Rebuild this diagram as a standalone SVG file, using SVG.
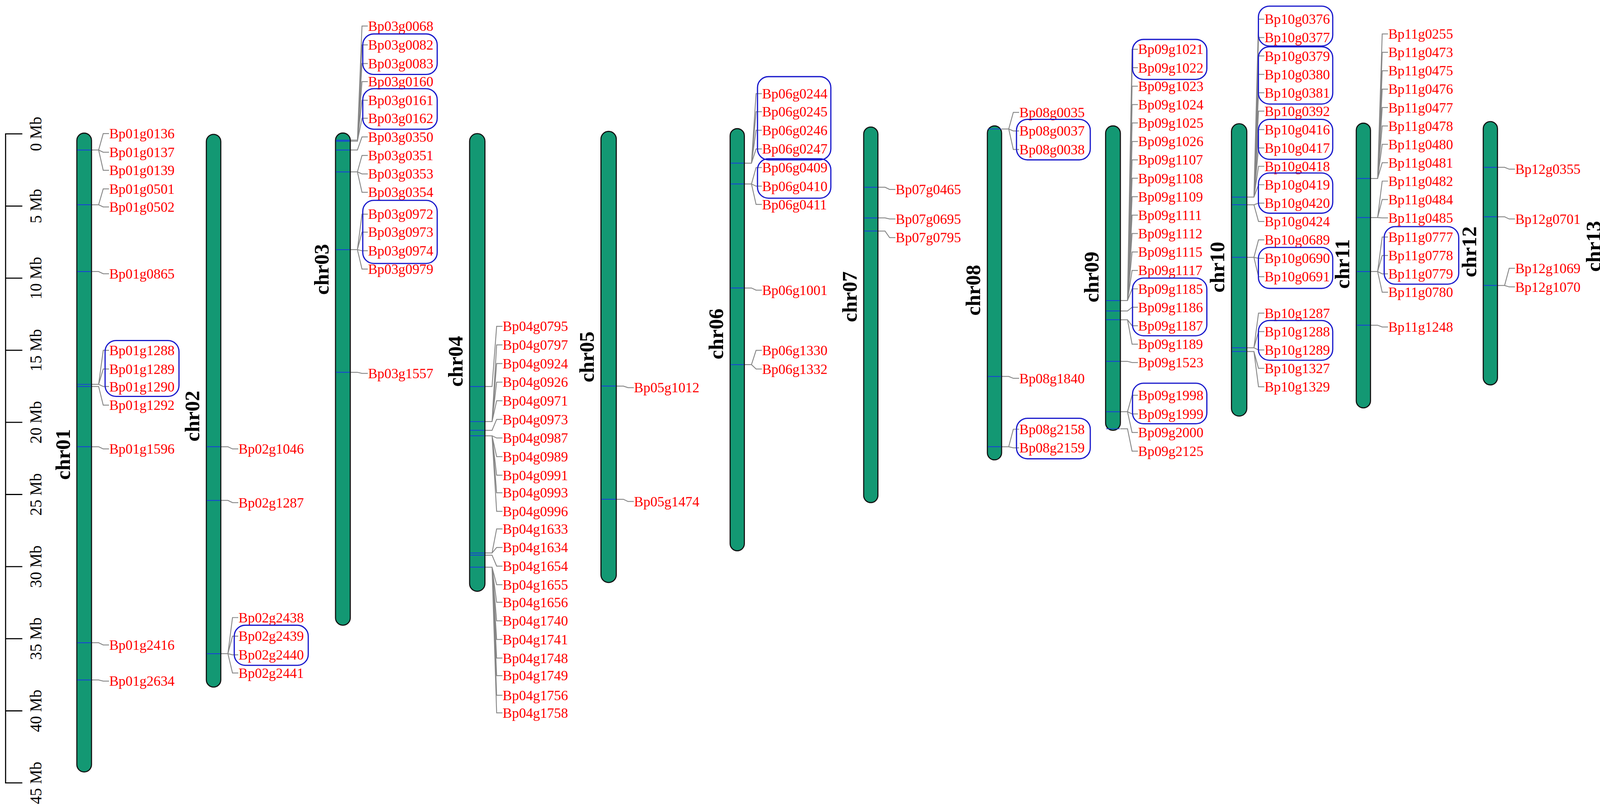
<svg xmlns="http://www.w3.org/2000/svg" width="4394" height="2073" viewBox="0 0 4394 2073">
<style>
.chr{fill:#139873;stroke:#111;stroke-width:1}
.mk{stroke:#1a3ae0;stroke-width:0.7}
.cn path{fill:none;stroke:#858585;stroke-width:0.8}
.g{font-family:"Liberation Serif","Times New Roman",serif;font-size:12.8px;fill:#ff0000}
.cl{font-family:"Liberation Serif","Times New Roman",serif;font-size:19px;font-weight:bold;fill:#000;text-anchor:middle}
.ax{font-family:"Liberation Serif","Times New Roman",serif;font-size:14.7px;fill:#000;text-anchor:middle}
.bx{fill:none;stroke:#1a1acc;stroke-width:1.1}
</style>
<rect width="4394" height="2073" fill="#fff"/>
<g transform="scale(2.8023)">
<g id="axis">
<path d="M20.4 122.3H5.1V715H20.4M5.1 188.2H20.4M5.1 254H20.4M5.1 319.9H20.4M5.1 385.7H20.4M5.1 451.6H20.4M5.1 517.5H20.4M5.1 583.3H20.4M5.1 649.2H20.4" fill="none" stroke="#000" stroke-width="1"/>
<text class="ax" transform="translate(38,122.3) rotate(-90)">0 Mb</text>
<text class="ax" transform="translate(38,188.2) rotate(-90)">5 Mb</text>
<text class="ax" transform="translate(38,254) rotate(-90)">10 Mb</text>
<text class="ax" transform="translate(38,319.9) rotate(-90)">15 Mb</text>
<text class="ax" transform="translate(38,385.7) rotate(-90)">20 Mb</text>
<text class="ax" transform="translate(38,451.6) rotate(-90)">25 Mb</text>
<text class="ax" transform="translate(38,517.5) rotate(-90)">30 Mb</text>
<text class="ax" transform="translate(38,583.3) rotate(-90)">35 Mb</text>
<text class="ax" transform="translate(38,649.2) rotate(-90)">40 Mb</text>
<text class="ax" transform="translate(38,715) rotate(-90)">45 Mb</text>
</g>
<g id="connectors" class="cn">
<path d="M83.6 137h6.5L94.3 122h5.3M83.6 137h6.5L94.3 139h5.3M83.6 137h6.5L94.3 155.5h5.3M83.6 187h6.5L94.3 172.5h5.3M83.6 187h6.5L94.3 189h5.3M83.6 248h6.5L94.3 250h5.3M83.6 351h6.5L94.3 320h5.3M83.6 351h6.5L94.3 337h5.3M83.6 351h6.5L94.3 353h5.3M83.6 353h6.5L94.3 370h5.3M83.6 408h6.5L94.3 410h5.3M83.6 587h6.5L94.3 589h5.3M83.6 621h6.5L94.3 622h5.3"/>
<path d="M201.7 408h6.5L212.4 410h5.3M201.7 457h6.5L212.4 459h5.3M201.7 597h6.5L212.4 564h5.3M201.7 597h6.5L212.4 581h5.3M201.7 597h6.5L212.4 598h5.3M201.7 597h6.5L212.4 614.6h5.3"/>
<path d="M320 128h6.5L330.7 23.8h5.3M320 128h6.5L330.7 41h5.3M320 128h6.5L330.7 58h5.3M320 129h6.5L330.7 74.5h5.3M320 129h6.5L330.7 91.6h5.3M320 129h6.5L330.7 108h5.3M320 137h6.5L330.7 125h5.3M320 157h6.5L330.7 142h5.3M320 157h6.5L330.7 158.8h5.3M320 157h6.5L330.7 175.6h5.3M320 228h6.5L330.7 195.6h5.3M320 228h6.5L330.7 212h5.3M320 228h6.5L330.7 229h5.3M320 228h6.5L330.7 245.7h5.3M320 340h6.5L330.7 341h5.3"/>
<path d="M443 353h6.5L453.7 298h5.3M443 385h6.5L453.7 315h5.3M443 385h6.5L453.7 332h5.3M443 385h6.5L453.7 349h5.3M443 385h6.5L453.7 366h5.3M443 393h6.5L453.7 383h5.3M443 398h6.5L453.7 400h5.3M443 398h6.5L453.7 417h5.3M443 398h6.5L453.7 434h5.3M443 398h6.5L453.7 450h5.3M443 398h6.5L453.7 467h5.3M443 505h6.5L453.7 483h5.3M443 505h6.5L453.7 500h5.3M443 507h6.5L453.7 517h5.3M443 518h6.5L453.7 534h5.3M443 518h6.5L453.7 550h5.3M443 518h6.5L453.7 567h5.3M443 518h6.5L453.7 584h5.3M443 518h6.5L453.7 601h5.3M443 518h6.5L453.7 617h5.3M443 518h6.5L453.7 635h5.3M443 518h6.5L453.7 651h5.3"/>
<path d="M563 352.6h6.5L573.7 354h5.3M563 456h6.5L573.7 458h5.3"/>
<path d="M680 149h6.5L690.7 85.5h5.3M680 149h6.5L690.7 102h5.3M680 149h6.5L690.7 119h5.3M680 149h6.5L690.7 136h5.3M680 168h6.5L690.7 153h5.3M680 168h6.5L690.7 170h5.3M680 168h6.5L690.7 186.7h5.3M680 263h6.5L690.7 265h5.3M680 333h6.5L690.7 320h5.3M680 333h6.5L690.7 337h5.3"/>
<path d="M802 171h6.5L812.7 173h5.3M802 199h6.5L812.7 200h5.3M802 211h6.5L812.7 217h5.3"/>
<path d="M915 117.8h6.5L925.7 102.6h5.3M915 117.8h6.5L925.7 119.6h5.3M915 117.8h6.5L925.7 136.5h5.3M915 343.8h6.5L925.7 345.5h5.3M915 408h6.5L925.7 392h5.3M915 408h6.5L925.7 409h5.3"/>
<path d="M1023.5 274.5h6.5L1034.2 45h5.3M1023.5 274.5h6.5L1034.2 61.8h5.3M1023.5 274.5h6.5L1034.2 78.7h5.3M1023.5 274.5h6.5L1034.2 95.5h5.3M1023.5 274.5h6.5L1034.2 112.3h5.3M1023.5 274.5h6.5L1034.2 129.2h5.3M1023.5 274.5h6.5L1034.2 146h5.3M1023.5 274.5h6.5L1034.2 162.8h5.3M1023.5 274.5h6.5L1034.2 179.6h5.3M1023.5 274.5h6.5L1034.2 196.5h5.3M1023.5 274.5h6.5L1034.2 213.3h5.3M1023.5 274.5h6.5L1034.2 230.1h5.3M1023.5 274.5h6.5L1034.2 247h5.3M1023.5 274.5h6.5L1034.2 263.8h5.3M1023.5 284h6.5L1034.2 280.6h5.3M1023.5 292h6.5L1034.2 297.5h5.3M1023.5 292h6.5L1034.2 314.3h5.3M1023.5 330h6.5L1034.2 331.1h5.3M1023.5 376h6.5L1034.2 361h5.3M1023.5 376h6.5L1034.2 378h5.3M1023.5 376h6.5L1034.2 395h5.3M1023.5 391.6h6.5L1034.2 412h5.3"/>
<path d="M1139 180h6.5L1149.7 17.5h5.3M1139 180h6.5L1149.7 34.3h5.3M1139 180h6.5L1149.7 51.1h5.3M1139 180h6.5L1149.7 67.9h5.3M1139 180h6.5L1149.7 84.7h5.3M1139 180h6.5L1149.7 101.5h5.3M1139 180h6.5L1149.7 118.3h5.3M1139 180h6.5L1149.7 135.1h5.3M1139 180h6.5L1149.7 151.9h5.3M1139 180h6.5L1149.7 168.7h5.3M1139 187h6.5L1149.7 185.5h5.3M1139 187h6.5L1149.7 202.3h5.3M1139 235h6.5L1149.7 219.1h5.3M1139 235h6.5L1149.7 235.9h5.3M1139 235h6.5L1149.7 252.7h5.3M1139 317.6h6.5L1149.7 286h5.3M1139 317.6h6.5L1149.7 302.8h5.3M1139 317.6h6.5L1149.7 319.6h5.3M1139 321h6.5L1149.7 336.4h5.3M1139 321h6.5L1149.7 353.2h5.3"/>
<path d="M1252 163h6.5L1262.7 31h5.3M1252 163h6.5L1262.7 47.8h5.3M1252 163h6.5L1262.7 64.6h5.3M1252 163h6.5L1262.7 81.4h5.3M1252 163h6.5L1262.7 98.2h5.3M1252 163h6.5L1262.7 115h5.3M1252 163h6.5L1262.7 131.8h5.3M1252 163h6.5L1262.7 148.6h5.3M1252 198.7h6.5L1262.7 165.4h5.3M1252 198.7h6.5L1262.7 182.2h5.3M1252 198.7h6.5L1262.7 199h5.3M1252 248h6.5L1262.7 216.5h5.3M1252 248h6.5L1262.7 233.3h5.3M1252 248h6.5L1262.7 250.1h5.3M1252 248h6.5L1262.7 266.9h5.3M1252 297h6.5L1262.7 298.6h5.3"/>
<path d="M1368 152.8h6.5L1378.7 154.5h5.3M1368 198h6.5L1378.7 200h5.3M1368 260.7h6.5L1378.7 245h5.3M1368 260.7h6.5L1378.7 262h5.3"/>
<path d="M1482 131.6h6.5L1492.7 133.6h5.3M1482 183.7h6.5L1492.7 152.5h5.3M1482 183.7h6.5L1492.7 169h5.3M1482 183.7h6.5L1492.7 186h5.3M1482 183.7h6.5L1492.7 203h5.3M1482 275h6.5L1492.7 277.4h5.3"/>
</g>
<g id="chr01">
<rect class="chr" x="70.2" y="121.6" width="13.4" height="583.4" rx="6.7"/>
<path class="mk" d="M70.7 137H83.1M70.7 187H83.1M70.7 248H83.1M70.7 351H83.1M70.7 353H83.1M70.7 408H83.1M70.7 587H83.1M70.7 621H83.1"/>
<text class="cl" transform="translate(63.7,415) rotate(-90)">chr01</text>
<g class="g"><text x="99.8" y="126.4">Bp01g0136</text><text x="99.8" y="143.4">Bp01g0137</text><text x="99.8" y="159.9">Bp01g0139</text><text x="99.8" y="176.9">Bp01g0501</text><text x="99.8" y="193.4">Bp01g0502</text><text x="99.8" y="254.4">Bp01g0865</text><text x="99.8" y="324.4">Bp01g1288</text><text x="99.8" y="341.4">Bp01g1289</text><text x="99.8" y="357.4">Bp01g1290</text><text x="99.8" y="374.4">Bp01g1292</text><text x="99.8" y="414.4">Bp01g1596</text><text x="99.8" y="593.4">Bp01g2416</text><text x="99.8" y="626.4">Bp01g2634</text></g>
<rect class="bx" x="96" y="311" width="67.5" height="51" rx="10"/>
</g>
<g id="chr02">
<rect class="chr" x="188.5" y="122.7" width="13.2" height="504.8" rx="6.6"/>
<path class="mk" d="M189 408H201.2M189 457H201.2M189 597H201.2"/>
<text class="cl" transform="translate(182,380) rotate(-90)">chr02</text>
<g class="g"><text x="217.9" y="414.4">Bp02g1046</text><text x="217.9" y="463.4">Bp02g1287</text><text x="217.9" y="568.4">Bp02g2438</text><text x="217.9" y="585.4">Bp02g2439</text><text x="217.9" y="602.4">Bp02g2440</text><text x="217.9" y="619">Bp02g2441</text></g>
<rect class="bx" x="214" y="571" width="67.6" height="36.6" rx="10"/>
</g>
<g id="chr03">
<rect class="chr" x="306.5" y="121.5" width="13.5" height="449.5" rx="6.7"/>
<path class="mk" d="M307 128H319.5M307 129H319.5M307 137H319.5M307 157H319.5M307 228H319.5M307 340H319.5"/>
<text class="cl" transform="translate(300,246) rotate(-90)">chr03</text>
<g class="g"><text x="336.2" y="28.2">Bp03g0068</text><text x="336.2" y="45.4">Bp03g0082</text><text x="336.2" y="62.4">Bp03g0083</text><text x="336.2" y="78.9">Bp03g0160</text><text x="336.2" y="96">Bp03g0161</text><text x="336.2" y="112.4">Bp03g0162</text><text x="336.2" y="129.4">Bp03g0350</text><text x="336.2" y="146.4">Bp03g0351</text><text x="336.2" y="163.2">Bp03g0353</text><text x="336.2" y="180">Bp03g0354</text><text x="336.2" y="200">Bp03g0972</text><text x="336.2" y="216.4">Bp03g0973</text><text x="336.2" y="233.4">Bp03g0974</text><text x="336.2" y="250.1">Bp03g0979</text><text x="336.2" y="345.4">Bp03g1557</text></g>
<rect class="bx" x="331.4" y="31" width="68" height="37" rx="10"/>
<rect class="bx" x="331.4" y="81" width="68" height="37" rx="10"/>
<rect class="bx" x="331.4" y="183" width="68" height="57.6" rx="10"/>
</g>
<g id="chr04">
<rect class="chr" x="429" y="122" width="14" height="418" rx="7"/>
<path class="mk" d="M429.5 353H442.5M429.5 385H442.5M429.5 393H442.5M429.5 398H442.5M429.5 505H442.5M429.5 507H442.5M429.5 518H442.5"/>
<text class="cl" transform="translate(422.5,330) rotate(-90)">chr04</text>
<g class="g"><text x="459.2" y="302.4">Bp04g0795</text><text x="459.2" y="319.4">Bp04g0797</text><text x="459.2" y="336.4">Bp04g0924</text><text x="459.2" y="353.4">Bp04g0926</text><text x="459.2" y="370.4">Bp04g0971</text><text x="459.2" y="387.4">Bp04g0973</text><text x="459.2" y="404.4">Bp04g0987</text><text x="459.2" y="421.4">Bp04g0989</text><text x="459.2" y="438.4">Bp04g0991</text><text x="459.2" y="454.4">Bp04g0993</text><text x="459.2" y="471.4">Bp04g0996</text><text x="459.2" y="487.4">Bp04g1633</text><text x="459.2" y="504.4">Bp04g1634</text><text x="459.2" y="521.4">Bp04g1654</text><text x="459.2" y="538.4">Bp04g1655</text><text x="459.2" y="554.4">Bp04g1656</text><text x="459.2" y="571.4">Bp04g1740</text><text x="459.2" y="588.4">Bp04g1741</text><text x="459.2" y="605.4">Bp04g1748</text><text x="459.2" y="621.4">Bp04g1749</text><text x="459.2" y="639.4">Bp04g1756</text><text x="459.2" y="655.4">Bp04g1758</text></g>
</g>
<g id="chr05">
<rect class="chr" x="549" y="120" width="14" height="412" rx="7"/>
<path class="mk" d="M549.5 352.6H562.5M549.5 456H562.5"/>
<text class="cl" transform="translate(542.5,326) rotate(-90)">chr05</text>
<g class="g"><text x="579.2" y="358.4">Bp05g1012</text><text x="579.2" y="462.4">Bp05g1474</text></g>
</g>
<g id="chr06">
<rect class="chr" x="667" y="117.5" width="13" height="385.5" rx="6.5"/>
<path class="mk" d="M667.5 149H679.5M667.5 168H679.5M667.5 263H679.5M667.5 333H679.5"/>
<text class="cl" transform="translate(660.5,305) rotate(-90)">chr06</text>
<g class="g"><text x="696.2" y="89.9">Bp06g0244</text><text x="696.2" y="106.4">Bp06g0245</text><text x="696.2" y="123.4">Bp06g0246</text><text x="696.2" y="140.4">Bp06g0247</text><text x="696.2" y="157.4">Bp06g0409</text><text x="696.2" y="174.4">Bp06g0410</text><text x="696.2" y="191.1">Bp06g0411</text><text x="696.2" y="269.4">Bp06g1001</text><text x="696.2" y="324.4">Bp06g1330</text><text x="696.2" y="341.4">Bp06g1332</text></g>
<rect class="bx" x="692" y="70" width="67" height="76" rx="10"/>
<rect class="bx" x="692" y="145" width="67" height="36" rx="10"/>
</g>
<g id="chr07">
<rect class="chr" x="789" y="116" width="13" height="343" rx="6.5"/>
<path class="mk" d="M789.5 171H801.5M789.5 199H801.5M789.5 211H801.5"/>
<text class="cl" transform="translate(782.5,271) rotate(-90)">chr07</text>
<g class="g"><text x="818.2" y="177.4">Bp07g0465</text><text x="818.2" y="204.4">Bp07g0695</text><text x="818.2" y="221.4">Bp07g0795</text></g>
</g>
<g id="chr08">
<rect class="chr" x="902" y="115" width="13" height="305" rx="6.5"/>
<path class="mk" d="M902.5 117.8H914.5M902.5 343.8H914.5M902.5 408H914.5"/>
<text class="cl" transform="translate(895.5,265) rotate(-90)">chr08</text>
<g class="g"><text x="931.2" y="107">Bp08g0035</text><text x="931.2" y="124">Bp08g0037</text><text x="931.2" y="140.9">Bp08g0038</text><text x="931.2" y="349.9">Bp08g1840</text><text x="931.2" y="396.4">Bp08g2158</text><text x="931.2" y="413.4">Bp08g2159</text></g>
<rect class="bx" x="928.6" y="109" width="67.4" height="37" rx="10"/>
<rect class="bx" x="928.6" y="382" width="67.4" height="37" rx="10"/>
</g>
<g id="chr09">
<rect class="chr" x="1010" y="115" width="13.5" height="278" rx="6.7"/>
<path class="mk" d="M1010.5 274.5H1023M1010.5 284H1023M1010.5 292H1023M1010.5 330H1023M1010.5 376H1023M1010.5 391.6H1023"/>
<text class="cl" transform="translate(1003.5,253) rotate(-90)">chr09</text>
<g class="g"><text x="1039.7" y="49.4">Bp09g1021</text><text x="1039.7" y="66.2">Bp09g1022</text><text x="1039.7" y="83.1">Bp09g1023</text><text x="1039.7" y="99.9">Bp09g1024</text><text x="1039.7" y="116.7">Bp09g1025</text><text x="1039.7" y="133.6">Bp09g1026</text><text x="1039.7" y="150.4">Bp09g1107</text><text x="1039.7" y="167.2">Bp09g1108</text><text x="1039.7" y="184">Bp09g1109</text><text x="1039.7" y="200.9">Bp09g1111</text><text x="1039.7" y="217.7">Bp09g1112</text><text x="1039.7" y="234.5">Bp09g1115</text><text x="1039.7" y="251.4">Bp09g1117</text><text x="1039.7" y="268.2">Bp09g1185</text><text x="1039.7" y="285">Bp09g1186</text><text x="1039.7" y="301.9">Bp09g1187</text><text x="1039.7" y="318.7">Bp09g1189</text><text x="1039.7" y="335.5">Bp09g1523</text><text x="1039.7" y="365.4">Bp09g1998</text><text x="1039.7" y="382.4">Bp09g1999</text><text x="1039.7" y="399.4">Bp09g2000</text><text x="1039.7" y="416.4">Bp09g2125</text></g>
<rect class="bx" x="1034.6" y="36" width="67.9" height="36.5" rx="10"/>
<rect class="bx" x="1034.6" y="254" width="67.9" height="52.6" rx="10"/>
<rect class="bx" x="1034.6" y="350" width="67.9" height="37" rx="10"/>
</g>
<g id="chr10">
<rect class="chr" x="1125" y="113" width="14" height="267" rx="7"/>
<path class="mk" d="M1125.5 180H1138.5M1125.5 187H1138.5M1125.5 235H1138.5M1125.5 317.6H1138.5M1125.5 321H1138.5"/>
<text class="cl" transform="translate(1118.5,244) rotate(-90)">chr10</text>
<g class="g"><text x="1155.2" y="21.9">Bp10g0376</text><text x="1155.2" y="38.7">Bp10g0377</text><text x="1155.2" y="55.5">Bp10g0379</text><text x="1155.2" y="72.3">Bp10g0380</text><text x="1155.2" y="89.1">Bp10g0381</text><text x="1155.2" y="105.9">Bp10g0392</text><text x="1155.2" y="122.7">Bp10g0416</text><text x="1155.2" y="139.5">Bp10g0417</text><text x="1155.2" y="156.3">Bp10g0418</text><text x="1155.2" y="173.1">Bp10g0419</text><text x="1155.2" y="189.9">Bp10g0420</text><text x="1155.2" y="206.7">Bp10g0424</text><text x="1155.2" y="223.5">Bp10g0689</text><text x="1155.2" y="240.3">Bp10g0690</text><text x="1155.2" y="257.1">Bp10g0691</text><text x="1155.2" y="290.4">Bp10g1287</text><text x="1155.2" y="307.2">Bp10g1288</text><text x="1155.2" y="324">Bp10g1289</text><text x="1155.2" y="340.8">Bp10g1327</text><text x="1155.2" y="357.6">Bp10g1329</text></g>
<rect class="bx" x="1149.6" y="5.6" width="67.9" height="36.4" rx="10"/>
<rect class="bx" x="1149.6" y="42.7" width="67.9" height="52.3" rx="10"/>
<rect class="bx" x="1149.6" y="109" width="67.9" height="36.5" rx="10"/>
<rect class="bx" x="1149.6" y="158" width="67.9" height="36.7" rx="10"/>
<rect class="bx" x="1149.6" y="226" width="67.9" height="37.4" rx="10"/>
<rect class="bx" x="1149.6" y="292.7" width="67.9" height="36.3" rx="10"/>
</g>
<g id="chr11">
<rect class="chr" x="1239" y="112.5" width="13" height="260" rx="6.5"/>
<path class="mk" d="M1239.5 163H1251.5M1239.5 198.7H1251.5M1239.5 248H1251.5M1239.5 297H1251.5"/>
<text class="cl" transform="translate(1232.5,241) rotate(-90)">chr11</text>
<g class="g"><text x="1268.2" y="35.4">Bp11g0255</text><text x="1268.2" y="52.2">Bp11g0473</text><text x="1268.2" y="69">Bp11g0475</text><text x="1268.2" y="85.8">Bp11g0476</text><text x="1268.2" y="102.6">Bp11g0477</text><text x="1268.2" y="119.4">Bp11g0478</text><text x="1268.2" y="136.2">Bp11g0480</text><text x="1268.2" y="153">Bp11g0481</text><text x="1268.2" y="169.8">Bp11g0482</text><text x="1268.2" y="186.6">Bp11g0484</text><text x="1268.2" y="203.4">Bp11g0485</text><text x="1268.2" y="220.9">Bp11g0777</text><text x="1268.2" y="237.7">Bp11g0778</text><text x="1268.2" y="254.5">Bp11g0779</text><text x="1268.2" y="271.3">Bp11g0780</text><text x="1268.2" y="303">Bp11g1248</text></g>
<rect class="bx" x="1264.5" y="207" width="68.1" height="52.5" rx="10"/>
</g>
<g id="chr12">
<rect class="chr" x="1355" y="111" width="13" height="240.5" rx="6.5"/>
<path class="mk" d="M1355.5 152.8H1367.5M1355.5 198H1367.5M1355.5 260.7H1367.5"/>
<text class="cl" transform="translate(1348.5,230) rotate(-90)">chr12</text>
<g class="g"><text x="1384.2" y="158.9">Bp12g0355</text><text x="1384.2" y="204.4">Bp12g0701</text><text x="1384.2" y="249.4">Bp12g1069</text><text x="1384.2" y="266.4">Bp12g1070</text></g>
</g>
<g id="chr13">
<rect class="chr" x="1468.6" y="109" width="13.4" height="235" rx="6.7"/>
<path class="mk" d="M1469.1 131.6H1481.5M1469.1 183.7H1481.5M1469.1 275H1481.5"/>
<text class="cl" transform="translate(1462,225) rotate(-90)">chr13</text>
<g class="g"><text x="1498.2" y="138">Bp13g0117</text><text x="1498.2" y="156.9">Bp13g0383</text><text x="1498.2" y="173.4">Bp13g0384</text><text x="1498.2" y="190.4">Bp13g0385</text><text x="1498.2" y="207.4">Bp13g0386</text><text x="1498.2" y="281.8">Bp13g0883</text></g>
<rect class="bx" x="1493.5" y="143" width="67.5" height="68" rx="10"/>
</g>
</g>
</svg>
